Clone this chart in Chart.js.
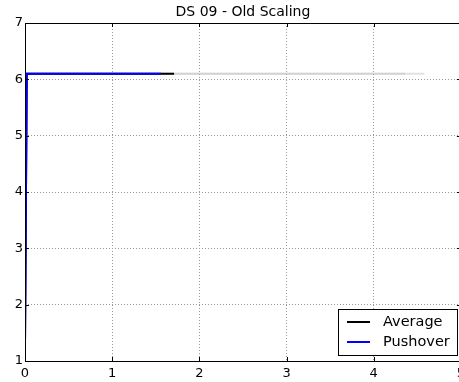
<!DOCTYPE html>
<html>
<head>
<meta charset="utf-8">
<script src="https://cdn.jsdelivr.net/npm/chart.js@4/dist/chart.umd.min.js"></script>
<style>
  html, body { margin: 0; padding: 0; background: #fff; overflow: hidden; }
  #wrap { width: 470px; height: 382px; }
</style>
</head>
<body>
<div id="wrap"><canvas id="c" width="470" height="382"></canvas></div>
<script>
// Pushover curves for DS 09 (old scaling)
const titleText = 'DS 09 - Old Scaling';
const xTicks = [0, 1, 2, 3, 4, 5];
const yTicks = [1, 2, 3, 4, 5, 6, 7];

// individual records (grey)
const record1X = [0, 0.02, 4.58];
const record1Y = [1.28, 6.1, 6.1];
const record2X = [0, 0.02, 4.36];
const record2Y = [1.28, 6.1, 6.1];

// average of records
const averageX = [0, 0.02, 1.71];
const averageY = [1.28, 6.1, 6.1];

// pushover analysis
const pushoverX = [0, 0.02, 1.56];
const pushoverY = [1.28, 6.1, 6.1];

const toPoints = (xs, ys) => xs.map((x, i) => ({ x: x, y: ys[i] }));
const FONT = '"DejaVu Sans", sans-serif';

const frame = {
  id: 'frame',
  afterDraw(chart) {
    const { ctx, chartArea: a, scales } = chart;
    ctx.save();
    // inward tick marks
    ctx.strokeStyle = '#000';
    ctx.lineWidth = 1;
    ctx.beginPath();
    xTicks.forEach(v => {
      const px = Math.round(scales.x.getPixelForValue(v)) + 0.5;
      ctx.moveTo(px, a.bottom); ctx.lineTo(px, a.bottom - 4);
      ctx.moveTo(px, a.top); ctx.lineTo(px, a.top + 4);
    });
    yTicks.forEach(v => {
      const py = Math.round(scales.y.getPixelForValue(v)) + 0.5;
      ctx.moveTo(a.left, py); ctx.lineTo(a.left + 4, py);
      ctx.moveTo(a.right, py); ctx.lineTo(a.right - 4, py);
    });
    ctx.stroke();
    // axes frame
    ctx.strokeStyle = '#000';
    ctx.lineWidth = 1;
    ctx.strokeRect(Math.round(a.left) + 0.5, Math.round(a.top) + 0.5,
                   Math.round(a.right - a.left), Math.round(a.bottom - a.top));
    // title
    ctx.fillStyle = '#000';
    ctx.font = '14px ' + FONT;
    ctx.textAlign = 'center';
    ctx.textBaseline = 'middle';
    ctx.fillText(titleText, (a.left + a.right) / 2, 12);
    // legend box
    const bx = 338.5, by = 309.5, bw = 119, bh = 46;
    ctx.fillStyle = '#fff';
    ctx.fillRect(bx, by, bw, bh);
    ctx.strokeStyle = '#000';
    ctx.strokeRect(bx, by, bw, bh);
    const entries = chart.data.datasets.filter(d => d.inLegend);
    entries.forEach((d, i) => {
      const y = 322 + i * 20;
      ctx.strokeStyle = d.borderColor;
      ctx.lineWidth = 2;
      ctx.beginPath();
      ctx.moveTo(347, y); ctx.lineTo(370, y);
      ctx.stroke();
      ctx.fillStyle = '#000';
      ctx.font = '14.5px ' + FONT;
      ctx.textAlign = 'left';
      ctx.textBaseline = 'middle';
      ctx.fillText(d.label, 383, y);
    });
    ctx.restore();
  }
};

new Chart(document.getElementById('c'), {
  type: 'line',
  data: {
    datasets: [
      { label: 'Record 1', data: toPoints(record1X, record1Y), borderColor: 'rgba(190,190,190,0.45)', borderWidth: 2, order: 3, inLegend: false },
      { label: 'Record 2', data: toPoints(record2X, record2Y), borderColor: 'rgba(190,190,190,0.45)', borderWidth: 2, order: 3, inLegend: false },
      { label: 'Average', data: toPoints(averageX, averageY), borderColor: '#000000', borderWidth: 2, order: 1, inLegend: true },
      { label: 'Pushover', data: toPoints(pushoverX, pushoverY), borderColor: '#0000ff', borderWidth: 2, order: 0, inLegend: true }
    ]
  },
  options: {
    responsive: false,
    animation: false,
    events: [],
    elements: { point: { radius: 0 }, line: { tension: 0 } },
    layout: { padding: { top: 23, right: 7, left: 0, bottom: 0 } },
    plugins: { legend: { display: false }, title: { display: false }, tooltip: { enabled: false } },
    scales: {
      x: {
        type: 'linear', min: 0, max: 5,
        afterBuildTicks: s => { s.ticks = xTicks.map(v => ({ value: v })); },
        afterFit: s => { s.height = 21; },
        grid: { color: '#999', drawTicks: false, lineWidth: 1 },
        border: { display: false, dash: [1, 2] },
        ticks: { padding: 5, color: '#000', font: { family: FONT, size: 13 } }
      },
      y: {
        type: 'linear', min: 1, max: 7,
        afterBuildTicks: s => { s.ticks = yTicks.map(v => ({ value: v })); },
        afterFit: s => { s.width = 25; },
        grid: { color: '#999', drawTicks: false, lineWidth: 1 },
        border: { display: false, dash: [1, 2] },
        ticks: { padding: 2, color: '#000', font: { family: FONT, size: 13 } }
      }
    }
  },
  plugins: [frame]
});
</script>
</body>
</html>
